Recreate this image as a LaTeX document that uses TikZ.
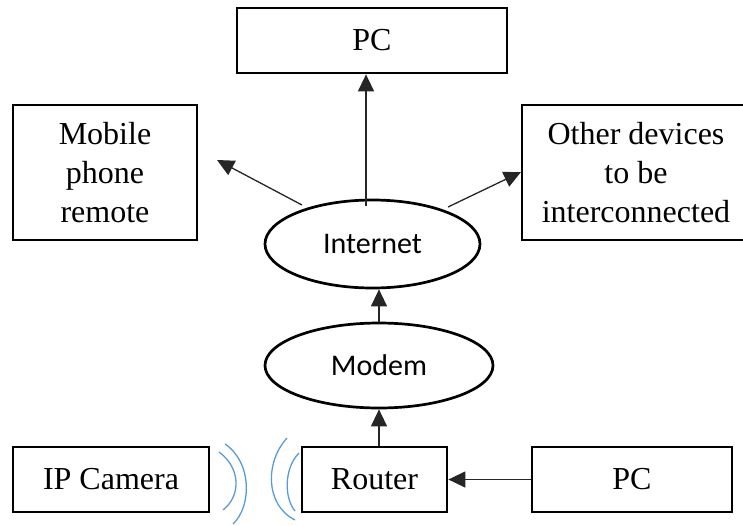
\documentclass[tikz,border=0pt]{standalone}
\usepackage{fontspec}
\setmainfont{Liberation Serif}
\newfontfamily\calibrifont{Carlito}
\usetikzlibrary{arrows.meta,shapes.geometric}
\definecolor{wifiblue}{RGB}{91,155,213}
\tikzset{
  boxnode/.style={draw=black, line width=2.7pt, rectangle, inner sep=0pt, align=center,
    font=\fontsize{32}{39}\selectfont},
  ovalnode/.style={draw=black, line width=2.7pt, ellipse, inner sep=0pt,
    font=\calibrifont\fontsize{30}{36}\selectfont},
  arr/.style={draw=black!85, line width=1.3pt, -{Triangle[length=17pt,width=16pt]}},
  wifi/.style={draw=wifiblue, line width=1.3pt}
}
\begin{document}
\begin{tikzpicture}[x=1pt,y=-1pt]
\useasboundingbox (0,0) rectangle (743,525);
\node[boxnode, minimum width=270pt, minimum height=65pt] (pctop) at (372,40.5) {PC};
\node[boxnode, minimum width=184pt, minimum height=135pt] (mobile) at (105,172.5) {Mobile\\phone\\remote};
\node[boxnode, minimum width=228pt, minimum height=135pt] (other) at (636,172.5) {Other devices\\to be\\interconnected};
\node[ovalnode, minimum width=215pt, minimum height=88pt] (internet) at (372.5,244) {Internet};
\node[ovalnode, minimum width=228pt, minimum height=85pt] (modem) at (379,365.5) {Modem};
\node[boxnode, minimum width=196pt, minimum height=65pt] (camera) at (111,479.5) {IP Camera};
\node[boxnode, minimum width=145pt, minimum height=65pt] (router) at (374.5,479.5) {Router};
\node[boxnode, minimum width=200pt, minimum height=65pt] (pcbot) at (632,479.5) {PC};

\coordinate (i1) at (366,206);
\coordinate (i2) at (302,205);
\coordinate (m1) at (217,160);
\coordinate (i3) at (448,207);
\coordinate (o1) at (521,172);

\draw[arr] (i1) -- (i1 |- pctop.south);
\draw[arr] (i2) -- (m1);
\draw[arr] (i3) -- (o1);
\draw[arr] (modem.north) -- (modem.north |- internet.south);
\draw[arr] (modem.south |- router.north) -- (modem.south);
\draw[arr] (pcbot.west) -- (router.east);

% wireless arcs
\draw[wifi] (219,452) .. controls (241,468) and (241,496) .. (223,510);
\draw[wifi] (225,444) .. controls (252,462) and (252,506) .. (233,524);
\draw[wifi] (287,438) .. controls (265,462) and (265,505) .. (295,520);
\draw[wifi] (299,453) .. controls (284,468) and (284,498) .. (295,511);
\end{tikzpicture}
\end{document}
